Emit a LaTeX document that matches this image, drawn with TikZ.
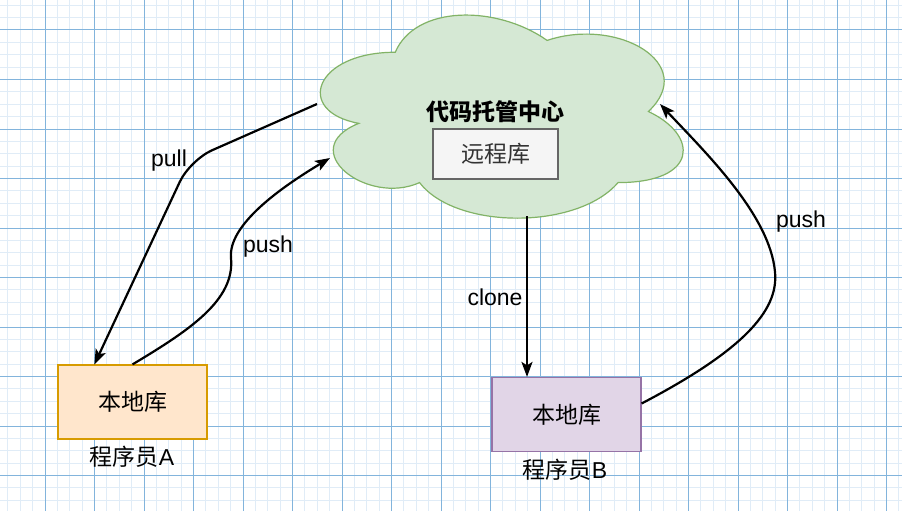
\documentclass[tikz,border=0pt]{standalone}
\usepackage{fontspec}
\setmainfont{Liberation Sans}
\newfontfamily\cjk{Noto Sans CJK SC}
\usetikzlibrary{positioning,arrows.meta}

\definecolor{gridminor}{RGB}{224,236,247}
\definecolor{gridmajor}{RGB}{130,180,220}
\definecolor{cloudfill}{RGB}{213,232,212}
\definecolor{clouddraw}{RGB}{130,179,102}
\definecolor{remotefill}{RGB}{245,245,245}
\definecolor{remotedraw}{RGB}{102,102,102}
\definecolor{afill}{RGB}{255,230,204}
\definecolor{adraw}{RGB}{215,155,0}
\definecolor{bfill}{RGB}{225,213,231}
\definecolor{bdraw}{RGB}{150,115,166}

\tikzset{
  repo/.style={draw, line width=1.2pt, inner sep=0pt, minimum width=149pt, minimum height=74pt},
  flow/.style={->, line width=2.2pt}
}

\begin{document}
\begin{tikzpicture}[x=1pt, y=-1pt, >={Stealth[length=15pt,width=11pt,inset=3.5pt]},
    font=\fontsize{23}{27}\selectfont]
    \useasboundingbox (0,0) rectangle (902,511);
    \fill[white] (0,0) rectangle (902,511);

    % Grid
    \foreach \k in {-3,...,69}
        \draw[gridminor, line width=1pt] ({45+12.375*\k},0) -- ++(0,511);
    \foreach \k in {-2,...,39}
        \draw[gridminor, line width=1pt] (0,{30+12.375*\k}) -- ++(902,0);
    \foreach \k in {0,...,17}
        \draw[gridmajor, line width=1pt] ({45+49.5*\k},0) -- ++(0,511);
    \foreach \k in {0,...,9}
        \draw[gridmajor, line width=1pt] (0,{30+49.5*\k}) -- ++(902,0);

    % Cloud
    \begin{scope}[shift={(294,-7)}, x=405pt, y=-237pt]
        \draw[fill=cloudfill, draw=clouddraw, line width=1.2pt]
            (0.25,0.25) .. controls (0.05,0.25) and (0,0.5) .. (0.16,0.55)
            .. controls (0,0.66) and (0.18,0.9) .. (0.31,0.8)
            .. controls (0.4,1) and (0.7,1) .. (0.8,0.8)
            .. controls (1,0.8) and (1,0.6) .. (0.875,0.5)
            .. controls (1,0.3) and (0.8,0.1) .. (0.625,0.2)
            .. controls (0.5,0.05) and (0.3,0.05) .. (0.25,0.25) -- cycle;
    \end{scope}
    \coordinate (hubW) at (317,104);
    \coordinate (hubSW) at (330,158);
    \coordinate (hubS) at (527,216);
    \coordinate (hubE) at (660,104);

    % Nodes
    \node (hub) at (495,112) {\cjk\bfseries 代码托管中心};
    \node[draw=remotedraw, fill=remotefill, line width=1.2pt, inner sep=0pt,
        minimum width=125pt, minimum height=50pt, text=black!80] (remote) at (495.5,154) {\cjk 远程库};
    \node[repo, fill=afill, draw=adraw] (localA) at (132.5,402) {\cjk 本地库};
    \node[repo, fill=bfill, draw=bdraw] (localB) at (566.5,414.5) {\cjk 本地库};
    \node (devA) at (132,457) {{\cjk 程序员}A};
    \node (devB) at (565,470) {{\cjk 程序员}B};

    % Connections
    \draw[flow, rounded corners=24pt] (hubW) -- (190,160) -- ([xshift=37pt]localA.north west);
    \draw[flow] (localA.north) .. controls (190,330) and (235,300) .. (231,258)
        .. controls (228,225) and (280,188) .. (hubSW);
    \draw[flow] (hubS) -- (hubS |- localB.north);
    \draw[flow] ([yshift=11pt]localB.east) .. controls (740,352) and (779,312) .. (775,272)
        .. controls (770,215) and (705,152) .. (hubE);

    % Labels
    \node (pullLbl) at (169,161) {pull};
    \node (pushA) at (268,247) {push};
    \node (cloneLbl) at (495,297) {clone};
    \node (pushB) at (801,222) {push};
\end{tikzpicture}
\end{document}
